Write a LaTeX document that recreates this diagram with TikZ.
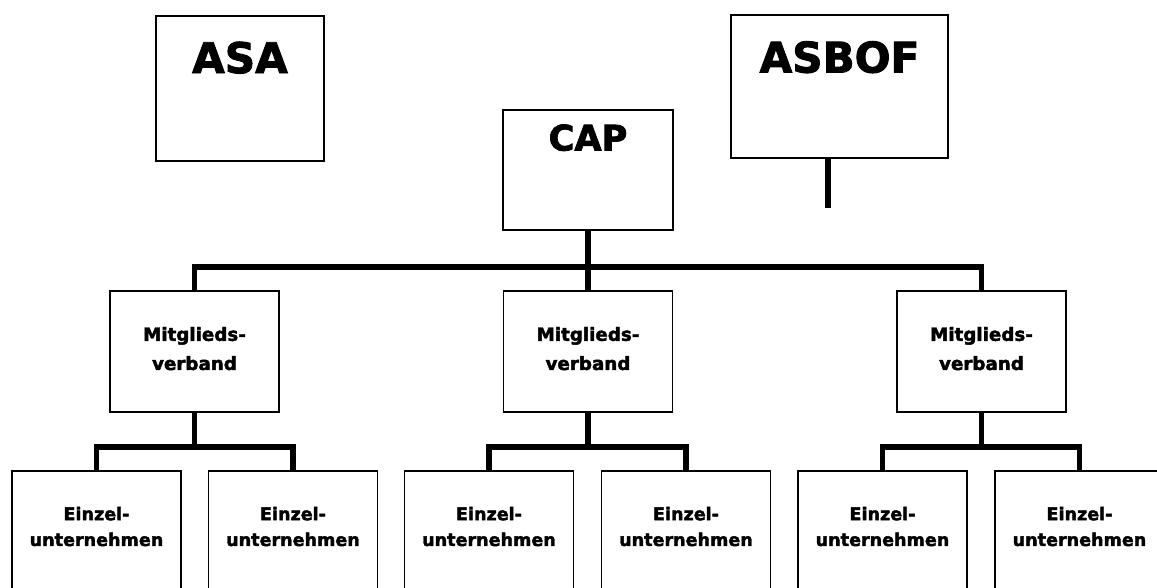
\documentclass[tikz,border=0pt]{standalone}
\usepackage{fontspec}
\setmainfont{DejaVu Sans}[BoldFeatures={FakeBold=2.2}]

\begin{document}
\begin{tikzpicture}[x=0.02cm,y=-0.02cm,
	box/.style={draw,line width=1.1pt,inner sep=0pt},
	bigbox/.style={box,font=\fontsize{24}{28}\selectfont\bfseries},
	capbox/.style={box,font=\fontsize{20}{24}\selectfont\bfseries},
	mvbox/.style={box,minimum width=3.38cm,align=center,text height=1.58cm,text depth=0.84cm,font=\fontsize{10.4}{16.6}\selectfont\bfseries},
	eubox/.style={box,minimum width=3.38cm,align=center,text height=1.5cm,text depth=0.92cm,font=\fontsize{10}{14.7}\selectfont\bfseries},
	conn/.style={line width=3.4pt}]
		\clip (0,0) rectangle (1157,588);
		\node[bigbox,minimum width=3.36cm,text height=1.14cm,text depth=1.76cm] (ASA) at (240,88.5) {ASA};
		\node[bigbox,minimum width=4.34cm,text height=1.15cm,text depth=1.71cm] (ASBOF) at (839.5,86.5) {ASBOF};
		\node[capbox,minimum width=3.4cm,text height=0.81cm,text depth=1.59cm] (CAP) at (588,170) {CAP};
		\foreach \i/\x in {1/194.5,2/588,3/981.5}
			\node[mvbox] (MV\i) at (\x,351.5) {Mitglieds-\\verband};
		\foreach \i/\x in {1/96.5,2/293,3/489,4/686,5/882.5,6/1079.5}
			\node[eubox] (EU\i) at (\x,531.5) {Einzel-\\unternehmen};
		\coordinate (bar) at (588,267);
		\coordinate (stub) at (828,208);
		\draw[conn] (CAP) -- (MV2);
		\draw[conn] (MV1.north) -- (MV1.north |- bar) -- (MV3.north |- bar) -- (MV3.north);
		\draw[conn] (ASBOF.south -| stub) -- (stub);
		\foreach \m/\a/\b in {1/1/2,2/3/4,3/5/6}{
			\draw[conn] (MV\m.south) -- ++(0,36);
			\draw[conn] (EU\a.north) -- ++(0,-23) -| (EU\b.north);
		}
	\end{tikzpicture}
\end{document}
